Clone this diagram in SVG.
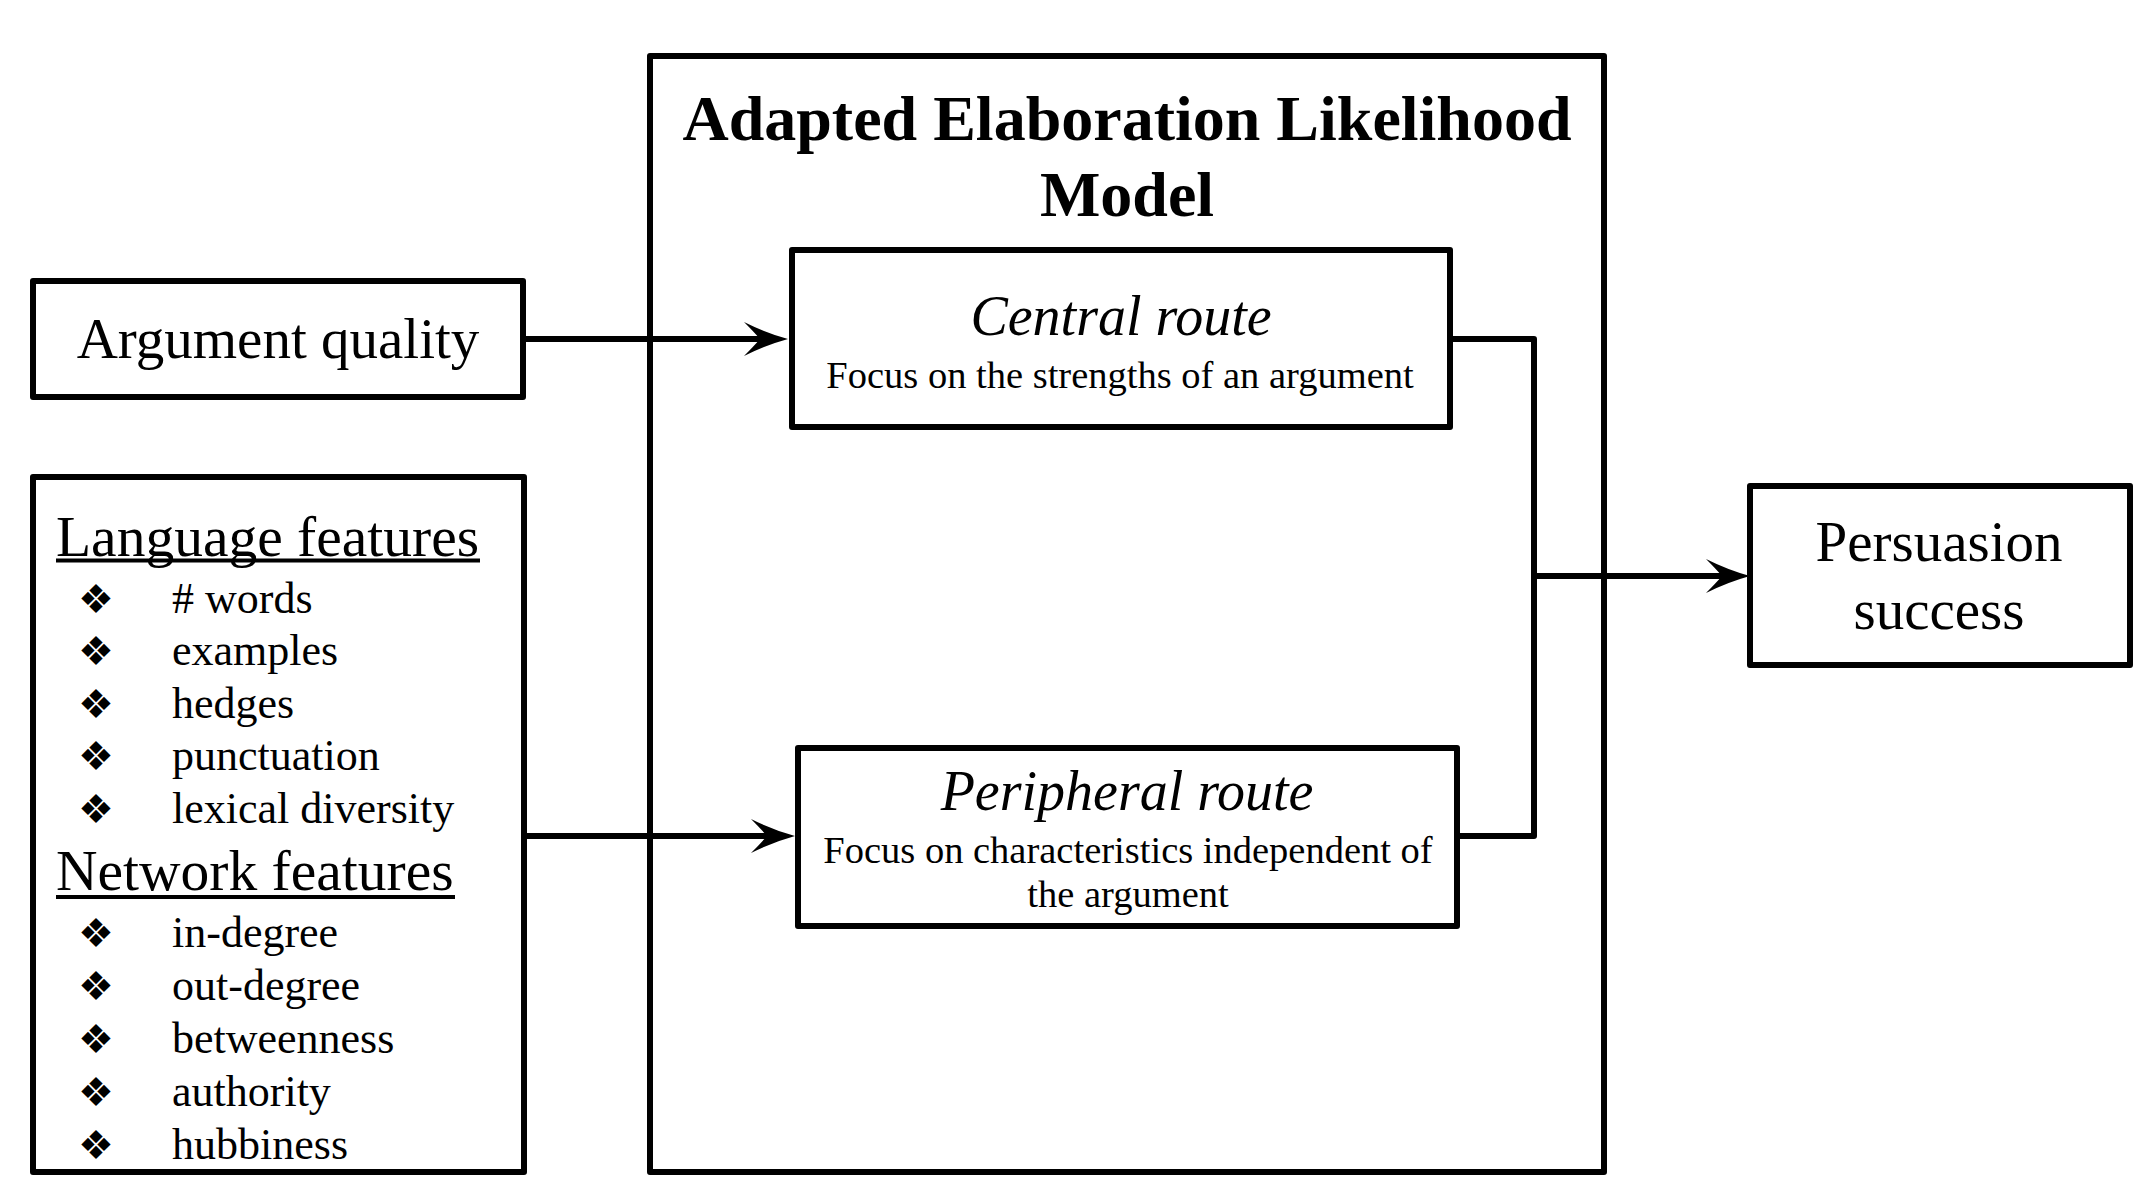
<svg xmlns="http://www.w3.org/2000/svg" width="2150" height="1196" viewBox="0 0 2150 1196">
<style>
.box{fill:none;stroke:#000;stroke-width:6;stroke-linejoin:round}
.con{fill:none;stroke:#000;stroke-width:6;stroke-linejoin:round}
.t{font-family:"Liberation Serif","Times New Roman",serif;fill:#000}
.ti{font-family:"Liberation Serif","Times New Roman",serif;font-style:italic;fill:#000}
.tb{font-family:"Liberation Serif","Times New Roman",serif;font-weight:bold;fill:#000}
.bul{font-family:"DejaVu Sans",sans-serif;font-size:40px;fill:#000}
.it{font-size:44px}
.ul{stroke:#000;stroke-width:4}
</style>
<defs>
<marker id="ah" markerUnits="userSpaceOnUse" viewBox="-46 -19 48 38" markerWidth="48" markerHeight="38" refX="-28" refY="0" orient="auto">
<path d="M0,0 Q-22,-6 -44,-17 Q-34,-7 -28,0 Q-34,7 -44,17 Q-22,6 0,0 Z" fill="#000"/>
</marker>
</defs>
<rect width="2150" height="1196" fill="#fff"/>
<g id="elm">
<rect class="box" x="650" y="56" width="954" height="1116"/>
<text class="tb" x="1127" y="140" font-size="64" text-anchor="middle">Adapted Elaboration Likelihood</text>
<text class="tb" x="1127" y="216" font-size="64" text-anchor="middle">Model</text>
</g>
<g id="argument-quality">
<rect class="box" x="33" y="281" width="490" height="116"/>
<text class="t" x="278" y="358" font-size="57" text-anchor="middle">Argument quality</text>
</g>
<g id="features">
<rect class="box" x="33" y="477" width="491" height="695"/>
<text class="t" x="56" y="556" font-size="57.5">Language features</text>
<line class="ul" x1="56" y1="560.5" x2="480" y2="560.5"/>
<g class="bul">
<text x="78" y="613">❖</text><text x="78" y="665">❖</text><text x="78" y="717.5">❖</text><text x="78" y="770">❖</text><text x="78" y="822.5">❖</text>
<text x="78" y="946.5">❖</text><text x="78" y="999.5">❖</text><text x="78" y="1052.5">❖</text><text x="78" y="1105.5">❖</text><text x="78" y="1158.5">❖</text>
</g>
<g class="t it">
<text x="172" y="613"># words</text>
<text x="172" y="665">examples</text>
<text x="172" y="717.5">hedges</text>
<text x="172" y="770">punctuation</text>
<text x="172" y="822.5">lexical diversity</text>
<text x="172" y="946.5">in-degree</text>
<text x="172" y="999.5">out-degree</text>
<text x="172" y="1052.5">betweenness</text>
<text x="172" y="1105.5">authority</text>
<text x="172" y="1158.5">hubbiness</text>
</g>
<text class="t" x="56" y="890" font-size="57.5">Network features</text>
<line class="ul" x1="56" y1="897" x2="455" y2="897"/>
</g>
<g id="central-route">
<rect class="box" x="792" y="250" width="658" height="177"/>
<text class="ti" x="1121" y="335" font-size="56" text-anchor="middle">Central route</text>
<text class="t" x="1120" y="388" font-size="38.5" text-anchor="middle">Focus on the strengths of an argument</text>
</g>
<g id="peripheral-route">
<rect class="box" x="798" y="748" width="659" height="178"/>
<text class="ti" x="1127" y="810" font-size="56" text-anchor="middle">Peripheral route</text>
<text class="t" x="1128" y="862.5" font-size="38.5" text-anchor="middle">Focus on characteristics independent of</text>
<text class="t" x="1128" y="906.5" font-size="38.5" text-anchor="middle">the argument</text>
</g>
<g id="persuasion-success">
<rect class="box" x="1750" y="486" width="380" height="179"/>
<text class="t" x="1939" y="561" font-size="57" text-anchor="middle">Persuasion</text>
<text class="t" x="1939" y="629" font-size="57" text-anchor="middle">success</text>
</g>
<g id="connectors">
<path class="con" d="M523,339 H760" marker-end="url(#ah)"/>
<path class="con" d="M524,836 H767" marker-end="url(#ah)"/>
<path class="con" d="M1450,339 H1534 V836 H1457"/>
<path class="con" d="M1534,576 H1722" marker-end="url(#ah)"/>
</g>
</svg>
